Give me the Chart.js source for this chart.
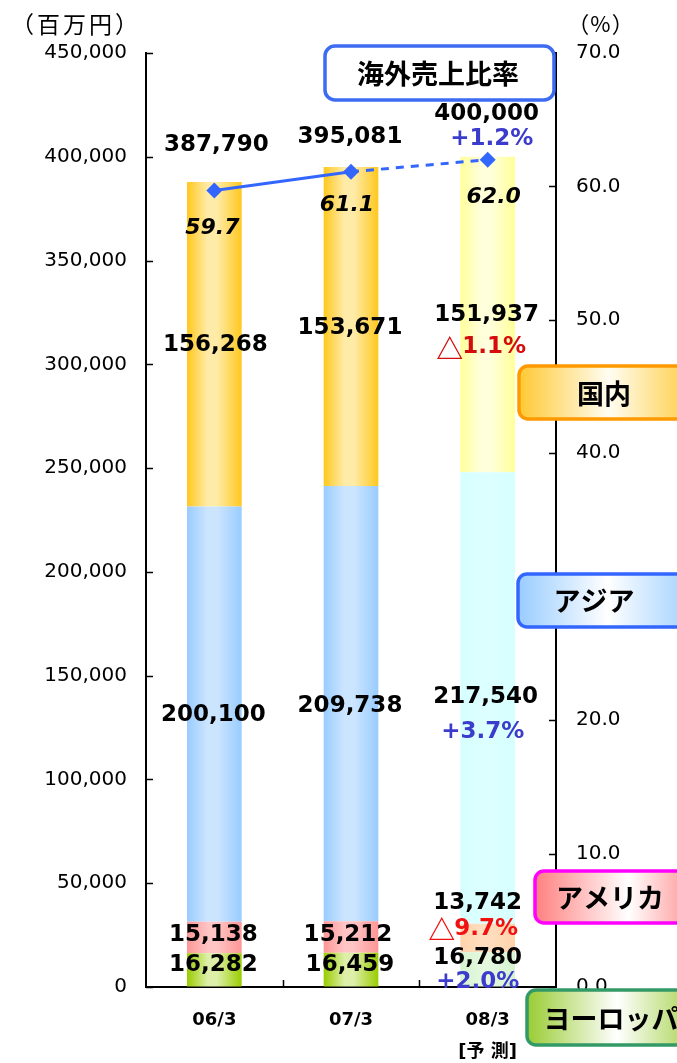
<!DOCTYPE html>
<html>
<head>
<meta charset="utf-8">
<script src="https://cdn.jsdelivr.net/npm/chart.js@4/dist/chart.umd.min.js"></script>
<style>
  html, body { margin: 0; padding: 0; background: #ffffff; }
  #wrap { width: 677px; height: 1063px; position: relative; }
</style>
</head>
<body>
<div id="wrap"><canvas id="c" width="677" height="1063"></canvas></div>
<script>
// ---------------- data ----------------
const categories = ['06/3', '07/3', '08/3'];
const categorySubLabels = ['', '', '[予 測]'];
const europe   = [16282, 16459, 16780];
const america  = [15138, 15212, 13742];
const asia     = [200100, 209738, 217540];
const domestic = [156268, 153671, 151937];
const totals   = [387790, 395081, 400000];
const overseasRatio = [59.7, 61.1, 62.0];
const forecastChangeEurope   = '+2.0%';
const forecastChangeAmerica  = '△9.7%';
const forecastChangeAsia     = '+3.7%';
const forecastChangeDomestic = '△1.1%';
const forecastChangeTotal    = '+1.2%';
const leftTicks  = [0, 50000, 100000, 150000, 200000, 250000, 300000, 350000, 400000, 450000];
const rightTicks = [0, 10, 20, 30, 40, 50, 60, 70];
const seriesNames = ['ヨーロッパ', 'アメリカ', 'アジア', '国内'];
const ratioName = '海外売上比率';
const leftUnit = '（百万円）';
const rightUnit = '（%）';

// ---------------- styles ----------------
const FONT_NUM = '"DejaVu Sans", "Liberation Sans", sans-serif';
const FONT_CJK = '"Noto Sans CJK JP", "DejaVu Sans", sans-serif';
const BAR_FRACTION = 0.40;
const barStyles = [
  { normal: ['#99CC00', '#DDEFA8', '#99CC00'], forecast: ['#D6F3CF', '#E4F8DE', '#D6F3CF'] },
  { normal: ['#FF9696', '#FFC4C4', '#FF9696'], forecast: ['#FFD3AC', '#FFDDBE', '#FFD3AC'] },
  { normal: ['#99CCFF', '#CCE5FF', '#99CCFF'], forecast: ['#D6FFFF', '#DCFFFF', '#D6FFFF'] },
  { normal: ['#FFC81E', '#FFEBA8', '#FFC81E'], forecast: ['#FFFF99', '#FFFFDC', '#FFFF99'] }
];

function barGradient(style) {
  return function (c) {
    const chart = c.chart;
    const cols = c.dataIndex === 2 ? style.forecast : style.normal;
    if (!chart.chartArea || !chart.scales.x) return cols[0];
    const xs = chart.scales.x;
    const cx = xs.getPixelForValue(c.dataIndex);
    const w = (xs.width / categories.length) * BAR_FRACTION;
    const g = chart.ctx.createLinearGradient(cx - w / 2, 0, cx + w / 2, 0);
    g.addColorStop(0, cols[0]);
    g.addColorStop(0.38, cols[1]);
    g.addColorStop(0.55, cols[1]);
    g.addColorStop(1, cols[2]);
    return g;
  };
}

const seriesData = [europe, america, asia, domestic];

// label offsets (layout only) relative to segment centre: [dx, dy]
const segLabelOffsets = [
  [[-1, -5], [-1, -5], [-10, -12]],
  [[-1, -2], [-3, -2], [-10, -35]],
  [[-1, 1], [-1, 2], [-2, -1]],
  [[1, 1], [-1, 2], [-1, 1]]
];
const changeLabelOffsets = [[-10, 12], [-14, -9], [-5, 34], [-6, 33]];
const changeTexts = [forecastChangeEurope, forecastChangeAmerica, forecastChangeAsia, forecastChangeDomestic];
const changeColors = ['#3C3CCC', '#F01010', '#3C3CCC', '#D40C0C'];
const totalLabelOffsets = [[2, -37], [-1, -30], [-1, -43]];
const totalChangeOffset = [4, 25];
const ratioLabelOffsets = [[-2, 38], [-4, 34], [6, 38]];

const fmt = v => v.toLocaleString('en-US');
const NUM_FONT = 'bold 23px ' + FONT_NUM;
const TRI_FONT = 'bold 27px ' + FONT_CJK;

function drawChange(ctx, text, x, y) {
  if (text.charAt(0) === '△') {
    const rest = text.slice(1);
    ctx.font = TRI_FONT;
    const tw = ctx.measureText('△').width;
    ctx.font = NUM_FONT;
    const rw = ctx.measureText(rest).width;
    const start = x - (tw - 2 + rw) / 2;
    ctx.textAlign = 'left';
    ctx.font = TRI_FONT;
    ctx.fillText('△', start - 1, y + 1);
    ctx.font = NUM_FONT;
    ctx.fillText(rest, start + tw - 2, y);
    ctx.textAlign = 'center';
  } else {
    ctx.font = NUM_FONT;
    ctx.fillText(text, x, y);
  }
}

const labelPlugin = {
  id: 'valueLabels',
  afterDatasetsDraw(chart) {
    const ctx = chart.ctx;
    const xs = chart.scales.x, ys = chart.scales.y, yr = chart.scales.y1;
    ctx.save();
    ctx.textAlign = 'center';
    ctx.textBaseline = 'middle';
    for (let i = 0; i < categories.length; i++) {
      let base = 0;
      for (let s = 0; s < seriesData.length; s++) {
        const v = seriesData[s][i];
        const cx = xs.getPixelForValue(i);
        const cy = ys.getPixelForValue(base + v / 2);
        const off = segLabelOffsets[s][i];
        ctx.font = NUM_FONT;
        ctx.fillStyle = '#000';
        ctx.fillText(fmt(v), cx + off[0], cy + off[1]);
        if (i === 2) {
          const co = changeLabelOffsets[s];
          ctx.fillStyle = changeColors[s];
          drawChange(ctx, changeTexts[s], cx + co[0], cy + co[1]);
        }
        base += v;
      }
      // totals
      const stackTop = seriesData.reduce((a, arr) => a + arr[i], 0);
      const tx = xs.getPixelForValue(i) + totalLabelOffsets[i][0];
      const ty = ys.getPixelForValue(stackTop) + totalLabelOffsets[i][1];
      ctx.font = NUM_FONT;
      ctx.fillStyle = '#000';
      ctx.fillText(fmt(totals[i]), tx, ty);
      if (i === 2) {
        ctx.fillStyle = '#3C3CCC';
        drawChange(ctx, forecastChangeTotal, xs.getPixelForValue(i) + totalChangeOffset[0], ty + totalChangeOffset[1]);
      }
      // ratio labels
      ctx.font = 'italic bold 22px ' + FONT_NUM;
      ctx.fillStyle = '#000';
      const rx = xs.getPixelForValue(i) + ratioLabelOffsets[i][0];
      const ry = yr.getPixelForValue(overseasRatio[i]) + ratioLabelOffsets[i][1];
      ctx.fillText(overseasRatio[i].toFixed(1), rx, ry);
    }
    ctx.restore();
  }
};

function roundBox(ctx, x, y, w, h, r, stroke, stops, text, tx, ty, fontSize) {
  ctx.save();
  ctx.beginPath();
  ctx.roundRect(x, y, w, h, r);
  if (stops) {
    const g = ctx.createLinearGradient(x, 0, x + w, 0);
    stops.forEach(s => g.addColorStop(s[0], s[1]));
    ctx.fillStyle = g;
  } else {
    ctx.fillStyle = '#ffffff';
  }
  ctx.fill();
  ctx.lineWidth = 3.5;
  ctx.strokeStyle = stroke;
  ctx.stroke();
  ctx.fillStyle = '#000';
  ctx.font = 'bold ' + fontSize + 'px ' + FONT_CJK;
  ctx.textAlign = 'center';
  ctx.textBaseline = 'middle';
  ctx.fillText(text, tx, ty);
  ctx.restore();
}

const decorPlugin = {
  id: 'decor',
  afterDraw(chart) {
    const ctx = chart.ctx;
    const a = chart.chartArea;
    const xs = chart.scales.x, ys = chart.scales.y, yr = chart.scales.y1;
    ctx.save();
    // inward tick marks
    ctx.strokeStyle = '#000';
    ctx.lineWidth = 1.5;
    ctx.beginPath();
    leftTicks.forEach(v => {
      const y = Math.round(ys.getPixelForValue(v)) + 0.5;
      ctx.moveTo(a.left, y); ctx.lineTo(a.left + 7, y);
    });
    rightTicks.forEach(v => {
      const y = Math.round(yr.getPixelForValue(v)) + 0.5;
      ctx.moveTo(a.right, y); ctx.lineTo(a.right - 7, y);
    });
    const cw = xs.width / categories.length;
    for (let k = 1; k < categories.length; k++) {
      const x = Math.round(a.left + cw * k) + 0.5;
      ctx.moveTo(x, a.bottom); ctx.lineTo(x, a.bottom - 7);
    }
    ctx.stroke();
    // unit texts
    ctx.fillStyle = '#000';
    ctx.textAlign = 'center';
    ctx.textBaseline = 'middle';
    ctx.font = '23px ' + FONT_CJK;
    ctx.letterSpacing = '3px';
    ctx.fillText(leftUnit, 76, 24);
    ctx.font = '22px ' + FONT_CJK;
    ctx.letterSpacing = '1px';
    ctx.fillText(rightUnit, 601, 24);
    ctx.letterSpacing = '0px';
    ctx.restore();

    // legend-style boxes
    roundBox(ctx, 325, 46, 229, 54, 10, '#3D6BF2', null, ratioName, 438, 74, 27);
    roundBox(ctx, 519, 366, 180, 53, 9, '#FF9900',
      [[0, '#FFC933'], [0.5, '#FFFDF2'], [1, '#FFC933']], seriesNames[3], 604, 394, 27);
    roundBox(ctx, 518, 574, 180, 53, 9, '#3366FF',
      [[0, '#99CCFF'], [0.5, '#FFFFFF'], [1, '#99CCFF']], seriesNames[2], 594, 601, 27);
    roundBox(ctx, 535, 871, 170, 52, 9, '#FF00FF',
      [[0, '#FF8080'], [0.55, '#FFFFFF'], [1, '#FF8080']], seriesNames[1], 610, 898, 27);
    roundBox(ctx, 527, 990, 180, 55, 9, '#339966',
      [[0, '#99CC33'], [0.5, '#FFFFFF'], [1, '#99CC33']], seriesNames[0], 611, 1019, 27);
  }
};

const barDatasets = seriesData.map((arr, s) => ({
  type: 'bar',
  label: seriesNames[s],
  data: arr,
  stack: 'sales',
  yAxisID: 'y',
  order: 2,
  backgroundColor: barGradient(barStyles[s]),
  borderWidth: 0,
  categoryPercentage: 1.0,
  barPercentage: BAR_FRACTION
}));

new Chart(document.getElementById('c'), {
  data: {
    labels: categories.map((c, i) => categorySubLabels[i] ? [c, categorySubLabels[i]] : c),
    datasets: [
      {
        type: 'line',
        label: ratioName,
        data: overseasRatio,
        yAxisID: 'y1',
        order: 0,
        borderColor: '#3366FF',
        borderWidth: 3,
        pointStyle: 'rectRot',
        pointRadius: 8,
        pointBackgroundColor: '#3366FF',
        pointBorderColor: '#3366FF',
        pointBorderWidth: 0,
        tension: 0,
        segment: {
          borderDash: c => c.p0DataIndex === 1 ? [8, 7] : undefined
        }
      },
      ...barDatasets
    ]
  },
  options: {
    responsive: false,
    animation: false,
    devicePixelRatio: 1,
    layout: { padding: { top: 53, left: 0, right: 0, bottom: 0 } },
    plugins: { legend: { display: false }, tooltip: { enabled: false } },
    scales: {
      x: {
        stacked: true,
        afterFit: s => { s.height = 76; },
        grid: { display: true, drawOnChartArea: false, drawTicks: false },
        border: { display: true, color: '#000', width: 2 },
        ticks: {
          color: '#000',
          padding: 18,
          font: { family: '"DejaVu Sans", "Noto Sans CJK JP", sans-serif', size: 18, weight: 'bold', lineHeight: 1.75 },
          maxRotation: 0
        }
      },
      y: {
        stacked: true,
        position: 'left',
        min: 0,
        max: 450000,
        afterFit: s => { s.width = 146; },
        afterBuildTicks: s => { s.ticks = leftTicks.map(v => ({ value: v })); },
        grid: { display: true, drawOnChartArea: false, drawTicks: false },
        border: { display: true, color: '#000', width: 2 },
        ticks: {
          color: '#000',
          padding: 19,
          font: { family: FONT_NUM, size: 20 },
          callback: v => fmt(v)
        }
      },
      y1: {
        position: 'right',
        min: 0,
        max: 70,
        afterFit: s => { s.width = 121; },
        afterBuildTicks: s => { s.ticks = rightTicks.map(v => ({ value: v })); },
        grid: { display: true, drawOnChartArea: false, drawTicks: false },
        border: { display: true, color: '#000', width: 2 },
        ticks: {
          color: '#000',
          padding: 20,
          font: { family: FONT_NUM, size: 20 },
          callback: v => Number(v).toFixed(1)
        }
      }
    }
  },
  plugins: [labelPlugin, decorPlugin]
});
</script>
</body>
</html>
